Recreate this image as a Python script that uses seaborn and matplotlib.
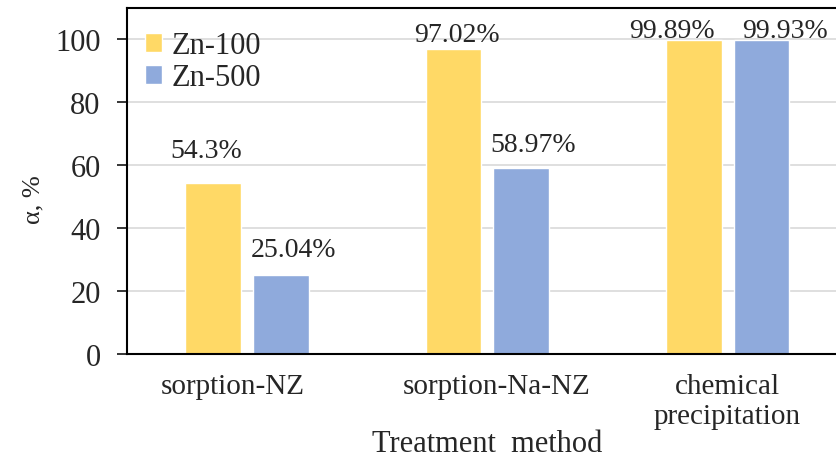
import matplotlib
matplotlib.use("Agg")
import matplotlib.pyplot as plt
import matplotlib.transforms as mtransforms
import seaborn as sns
import pandas as pd

categories = ["sorption-NZ", "sorption-Na-NZ", "chemical\nprecipitation"]
series = ["Zn-100", "Zn-500"]
zn100 = [54.3, 97.02, 99.89]
zn500 = [25.04, 58.97, 99.93]
labels100 = ["54.3%", "97.02%", "99.89%"]
labels500 = ["25.04%", "58.97%", "99.93%"]
colors = ["#FFD966", "#8FAADC"]

# label offsets (pixels) as placed in the original chart
offsets100 = [(-7, 26), (3, 8), (-22, 3)]
offsets500 = [(12, 19), (12, 17), (24, 3)]
cat_shift = [-14, 9, 0]

df = pd.DataFrame({
    "method": categories * 2,
    "series": [series[0]] * 3 + [series[1]] * 3,
    "value": zn100 + zn500,
})

sns.set_style("white")
plt.rcParams["font.family"] = ["Liberation Serif", "DejaVu Serif"]

fig = plt.figure(figsize=(8.36, 4.64), dpi=100)
ax = fig.add_axes([0.152, 0.235, 0.862, 0.746])

sns.barplot(data=df, x="method", y="value", hue="series", palette=colors,
            width=0.564, gap=0.177, ax=ax, saturation=1, legend=True)

ax.set_xlim(-0.5, 2.5)
ax.set_ylim(0, 110)
ax.set_yticks([0, 20, 40, 60, 80, 100])
ax.yaxis.grid(True, color="#D9D9D9", linewidth=1.2)
ax.set_axisbelow(True)

for c, labs, offs in zip(ax.containers, [labels100, labels500], [offsets100, offsets500]):
    for bar, lab, off in zip(c.patches, labs, offs):
        ax.annotate(lab, (bar.get_x() + bar.get_width() / 2, bar.get_height()),
                    xytext=off, textcoords="offset pixels",
                    ha="center", va="baseline", fontsize=20)

for s in ax.spines.values():
    s.set_color("black")
    s.set_linewidth(1.5)

ax.tick_params(axis="y", which="both", left=True, length=7, width=1.3,
               labelsize=22, pad=12, direction="out")
ax.tick_params(axis="x", bottom=False, labelsize=21, pad=10)
for t, dx in zip(ax.get_xticklabels(), cat_shift):
    t.set_linespacing(1.2)
    t.set_transform(t.get_transform() + mtransforms.Affine2D().translate(dx, 0))

ax.set_xlabel("Treatment  method", fontsize=22, va="top")
ax.xaxis.set_label_coords(0.5, -0.218)
ax.set_ylabel("α, %", fontsize=19)
ax.yaxis.set_label_coords(-0.114, 0.45)

leg = ax.legend(loc="upper left", frameon=False, fontsize=22, handlelength=0.55,
                handleheight=0.55, handletextpad=0.3, labelspacing=0.1,
                borderaxespad=0.2, bbox_to_anchor=(0.0, 0.985))

fig.savefig("out.png", dpi=100)
